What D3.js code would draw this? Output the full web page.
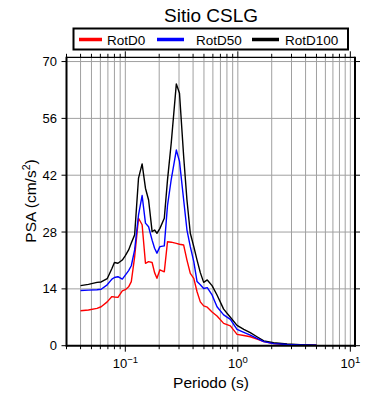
<!DOCTYPE html>
<html><head><meta charset="utf-8">
<script src="https://cdn.jsdelivr.net/npm/d3@7"></script>
<style>body{margin:0;background:#fff}svg{display:block}text{font-family:"Liberation Sans",Arial,sans-serif}</style>
</head><body><svg id="c" width="390" height="400"></svg>
<script>
const title = "Sitio CSLG";
const seriesNames = ["RotD0", "RotD50", "RotD100"];
const seriesColors = ["#ff0000", "#0000ff", "#000000"];
const periods = [0.04,0.047,0.056,0.061,0.069,0.076,0.08,0.086,0.094,0.1,0.107,0.113,0.121,0.131,0.141,0.151,0.161,0.173,0.182,0.191,0.203,0.222,0.237,0.256,0.284,0.303,0.33,0.353,0.378,0.406,0.434,0.464,0.497,0.535,0.59,0.653,0.748,0.858,0.984,1.13,1.29,1.48,1.7,2.08,2.74,3.59,5.0];
const rotD0 = [8.6,8.8,9.2,9.6,10.8,12.1,12.0,11.9,13.5,13.8,14.5,15.8,21.9,31.4,29.8,20.3,20.7,20.5,18.0,16.6,18.7,18.2,25.6,25.5,25.2,25.0,24.8,21.1,17.8,16.6,13.3,10.8,9.8,9.5,8.3,7.3,5.5,4.9,2.8,2.5,2.2,1.6,1.0,0.5,0.3,0.2,0.1];
const rotD50 = [13.6,13.7,13.8,13.9,15.0,16.4,16.8,17.0,16.4,17.4,18.5,19.7,23.6,32.2,37.0,30.2,29.3,26.0,24.0,22.8,24.4,24.6,34.5,41.0,48.2,45.4,35.9,28.5,24.4,20.7,15.8,15.0,14.1,14.3,12.5,9.6,7.6,6.5,4.0,3.3,2.6,1.8,1.0,0.5,0.3,0.2,0.1];
const rotD100 = [14.8,15.1,15.6,15.7,16.5,19.0,20.5,20.3,21.1,22.2,23.6,25.3,27.3,41.3,44.8,38.8,35.9,28.1,28.5,27.7,28.9,31.4,40.8,50.0,64.5,62.2,46.6,35.9,27.7,24.4,21.1,18.0,15.6,16.2,14.8,12.5,9.0,7.0,5.0,4.0,3.2,2.2,1.2,0.74,0.42,0.25,0.1];
const yTicks = [0,14,28,42,56,70];
const xMajor = [0.1, 1, 10];
const xMajorExp = ["\u22121", "0", "1"];
const xLabel = "Periodo (s)";
const yLabel = "PSA (cm/s";

const svg = d3.select("#c");
const L = 66.5, R = 355, T = 57.3, B = 345.7;
const x = d3.scaleLog().domain([0.03, 11]).range([L, R]);
const y = d3.scaleLinear().domain([0, 71.05]).range([B, T]);

const minor = [];
[0.01,0.1,1].forEach(d => { for (let k=2;k<=9;k++){ const v=d*k; if (v>=0.03 && v<=11) minor.push(v);} });
const allX = minor.concat(xMajor).sort((a,b)=>a-b);

// grid
const g = svg.append("g");
g.selectAll("line.vx").data(allX).join("line")
  .attr("x1", d=>x(d)).attr("x2", d=>x(d)).attr("y1", T).attr("y2", B)
  .attr("stroke", "#a0a0a0").attr("stroke-width", 1);
g.selectAll("line.hy").data(yTicks.filter(d=>d>0)).join("line")
  .attr("x1", L).attr("x2", R).attr("y1", d=>y(d)).attr("y2", d=>y(d))
  .attr("stroke", "#a0a0a0").attr("stroke-width", 1);

// curves
svg.append("clipPath").attr("id","cp").append("rect").attr("x",L).attr("y",T).attr("width",R-L).attr("height",B-T);
const line = d3.line().x(d=>x(d[0])).y(d=>y(d[1]));
const data = [rotD0, rotD100, rotD50];
const cols = [seriesColors[0], seriesColors[2], seriesColors[1]];
data.forEach((s,i)=>{
  svg.append("path").attr("clip-path","url(#cp)")
    .attr("d", line(periods.map((p,j)=>[p,s[j]])))
    .attr("fill","none").attr("stroke", cols[i]).attr("stroke-width",1.4).attr("stroke-linejoin","round");
});

// axes with ticks outward
const xb = d3.axisBottom(x).tickValues(allX).tickSize(0).tickFormat("");
const ax = svg.append("g");
function xTicks(y0, dir){
  ax.selectAll(null).data(allX).join("line")
    .attr("x1", d=>x(d)).attr("x2", d=>x(d)).attr("y1", y0)
    .attr("y2", d=> y0 + dir*(xMajor.includes(d)?6:3.5))
    .attr("stroke","#000").attr("stroke-width",1);
}
xTicks(B, 1); xTicks(T, -1);
function yT(x0, dir){
  ax.selectAll(null).data(yTicks).join("line")
    .attr("y1", d=>y(d)).attr("y2", d=>y(d)).attr("x1", x0).attr("x2", x0+dir*5)
    .attr("stroke","#000").attr("stroke-width",1);
}
yT(L,-1); yT(R,1);
// frame
svg.append("line").attr("x1",L).attr("x2",R).attr("y1",T).attr("y2",T).attr("stroke","#000").attr("stroke-width",1.2);
svg.append("line").attr("x1",L).attr("x2",R+1).attr("y1",B).attr("y2",B).attr("stroke","#000").attr("stroke-width",2);
svg.append("line").attr("x1",L).attr("x2",L).attr("y1",T-0.6).attr("y2",B+1).attr("stroke","#000").attr("stroke-width",2);
svg.append("line").attr("x1",R).attr("x2",R).attr("y1",T-0.6).attr("y2",B+1).attr("stroke","#000").attr("stroke-width",2);

// y tick labels
svg.selectAll(null).data(yTicks).join("text")
  .attr("x", 57).attr("y", d=>y(d)+4.5).attr("text-anchor","end")
  .attr("font-size",13).text(d=>d);
// x tick labels
xMajor.forEach((v,i)=>{
  const t = svg.append("text").attr("x", x(v)).attr("y", 368).attr("text-anchor","middle").attr("font-size",13);
  t.append("tspan").text("10");
  t.append("tspan").attr("dy",-5).attr("font-size",9.5).text(xMajorExp[i]);
});
svg.append("text").attr("x",211).attr("y",388).attr("text-anchor","middle").attr("font-size",15.5).text(xLabel);
const yl = svg.append("text").attr("transform","translate(36,201) rotate(-90)").attr("text-anchor","middle").attr("font-size",15.5);
yl.append("tspan").text(yLabel);
yl.append("tspan").attr("dy",-6).attr("font-size",10.5).text("2");
yl.append("tspan").attr("dy",6).text(")");

// title
svg.append("text").attr("x",211).attr("y",22).attr("text-anchor","middle").attr("font-size",19).text(title);

// legend
svg.append("rect").attr("x",73.5).attr("y",28.5).attr("width",274.5).attr("height",21).attr("fill","#fff").attr("stroke","#000").attr("stroke-width",2);
const legX = [[79,102,107],[157,184,196],[252,279,285]];
seriesNames.forEach((n,i)=>{
  svg.append("line").attr("x1",legX[i][0]).attr("x2",legX[i][1]).attr("y1",39.5).attr("y2",39.5).attr("stroke",seriesColors[i]).attr("stroke-width",3.5);
  svg.append("text").attr("x",legX[i][2]).attr("y",44.5).attr("font-size",13.5).text(n);
});
</script></body></html>
